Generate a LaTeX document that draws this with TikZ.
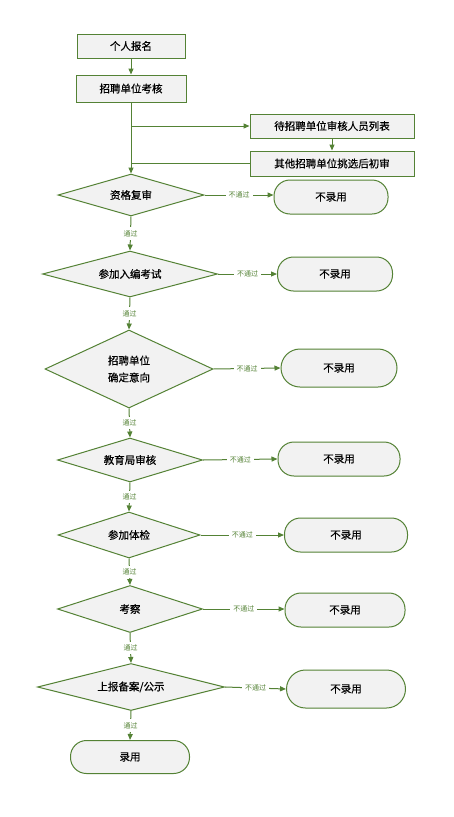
\documentclass[tikz,border=0pt]{standalone}
\usepackage{fontspec}
\newfontfamily\cjk[FakeBold=0.6]{Noto Sans CJK SC}
\newfontfamily\cjklight{Noto Sans CJK SC}
\usepackage{xcolor}
\definecolor{flow-line}{HTML}{548235}
\definecolor{flow-fill}{HTML}{F2F2F2}
\usetikzlibrary{shapes.geometric,arrows.meta}

\tikzset{
    stepbox/.style={draw=flow-line, fill=flow-fill, line width=1pt, minimum height=24pt, inner sep=0pt, font=\cjk\fontsize{10.5}{14}\selectfont},
    checkbox/.style={diamond, aspect=4, draw=flow-line, fill=flow-fill, line width=1pt, inner sep=0pt, align=center, font=\cjk\fontsize{10.5}{17}\selectfont},
    endbox/.style={draw=flow-line, fill=flow-fill, line width=1pt, rounded corners=16pt, minimum height=34pt, inner sep=0pt, font=\cjk\fontsize{10.5}{14}\selectfont},
    flow/.style={draw=flow-line, line width=1pt, -{Triangle[length=6pt,width=5pt]}},
    plain/.style={draw=flow-line, line width=1pt},
    tag/.style={fill=white, text=flow-line, inner sep=3pt, font=\cjklight\fontsize{7}{9}\selectfont}
}

\begin{document}
\begin{tikzpicture}[x=1pt, y=-1pt]

    % Background
    \useasboundingbox[fill=white] (0, 0) rectangle (453, 817);

    % Sign-up and first check
    \node[stepbox, minimum width=108pt] (signup) at (131, 46) {个人报名};
    \node[stepbox, minimum width=110pt, minimum height=27pt] (unitcheck) at (131, 88.5) {招聘单位考核};
    \node[stepbox, minimum width=164pt] (waitlist) at (332, 126) {待招聘单位审核人员列表};
    \node[stepbox, minimum width=164pt, minimum height=25pt] (otherunit) at (332, 163.5) {其他招聘单位挑选后初审};

    % Checks
    \node[checkbox, minimum width=146pt, minimum height=42pt] (review) at (131, 195) {资格复审};
    \node[checkbox, minimum width=175pt, minimum height=46pt] (exam) at (130, 274) {参加入编考试};
    \node[checkbox, minimum width=168pt, minimum height=78pt] (intent) at (129, 369) {招聘单位\\确定意向};
    \node[checkbox, minimum width=145pt, minimum height=44pt] (bureau) at (130, 460) {教育局审核};
    \node[checkbox, minimum width=142pt, minimum height=46pt] (medical) at (129, 535) {参加体检};
    \node[checkbox, minimum width=145pt, minimum height=47pt] (inspect) at (130, 609) {考察};
    \node[checkbox, minimum width=187pt, minimum height=47pt] (publish) at (131, 687) {上报备案/公示};

    % Outcomes
    \node[endbox, minimum width=114pt] (reject1) at (331, 197) {不录用};
    \node[endbox, minimum width=115pt] (reject2) at (335, 274) {不录用};
    \node[endbox, minimum width=116pt, minimum height=38pt, rounded corners=19pt] (reject3) at (339, 368) {不录用};
    \node[endbox, minimum width=122pt] (reject4) at (339, 459) {不录用};
    \node[endbox, minimum width=123pt] (reject5) at (346, 535) {不录用};
    \node[endbox, minimum width=120pt] (reject6) at (345, 610) {不录用};
    \node[endbox, minimum width=119pt, minimum height=38pt, rounded corners=19pt] (reject7) at (346, 689) {不录用};
    \node[endbox, minimum width=119pt, minimum height=33pt] (hire) at (130, 757) {录用};

    % Top connectors
    \coordinate (split) at (unitcheck.south |- waitlist.west);
    \coordinate (merge) at (unitcheck.south |- otherunit.west);
    \draw[flow] (signup) -- (unitcheck);
    \draw[flow] (unitcheck.south) -- (review.north);
    \draw[flow] (split) -- (waitlist.west);
    \draw[flow] (waitlist) -- (otherunit);
    \draw[plain] (otherunit.west) -- (merge);

    % Pass
    \draw[flow] (review.south) -- node[tag] {通过} (exam.north);
    \draw[flow] (exam.south) -- node[tag] {通过} (intent.north);
    \draw[flow] (intent.south) -- node[tag] {通过} (bureau.north);
    \draw[flow] (bureau.south) -- node[tag] {通过} (medical.north);
    \draw[flow] (medical.south) -- node[tag] {通过} (inspect.north);
    \draw[flow] (inspect.south) -- node[tag] {通过} (publish.north);
    \draw[flow] (publish.south) -- node[tag] {通过} (hire.north);

    % Fail
    \draw[flow] (review.east) -- node[tag] {不通过} (review.east -| reject1.west);
    \draw[flow] (exam.east) -- node[tag] {不通过} (reject2.west);
    \draw[flow] (intent.east) -- node[tag] {不通过} (reject3.west);
    \draw[flow] (bureau.east) -- node[tag] {不通过} (reject4.west);
    \draw[flow] (medical.east) -- node[tag] {不通过} (reject5.west);
    \draw[flow] (inspect.east) -- node[tag] {不通过} (inspect.east -| reject6.west);
    \draw[flow] (publish.east) -- node[tag] {不通过} (reject7.west);

\end{tikzpicture}
\end{document}
